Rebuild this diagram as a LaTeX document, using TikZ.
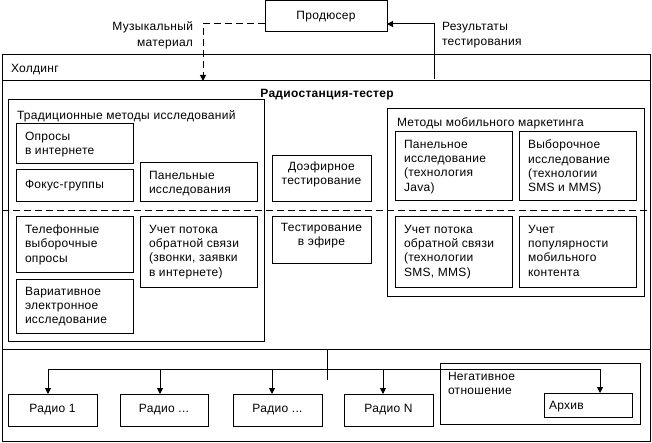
\documentclass[tikz,border=0pt]{standalone}
\usepackage{fontspec}
\setmainfont{Liberation Sans}[LetterSpace=2.5]
\usetikzlibrary{arrows.meta,calc}
\newcommand\tfont{\fontsize{12}{14.3}\selectfont}
\newcommand\mybox[5]{\node[bx,minimum width=#4pt,minimum height=#5pt] (#1) at (#2,#3) {};}
\begin{document}
\begin{tikzpicture}[x=1pt,y=-1pt,
  bx/.style={draw,line width=1pt,inner sep=0pt,outer sep=0pt,anchor=north west,rectangle},
  txt/.style={inner sep=0pt,outer sep=0pt,anchor=north west,align=left,font=\tfont,execute at begin node=\strut},
  ctxt/.style={txt,anchor=north,align=center},
  arr/.style={-{Triangle[length=6pt,width=6pt]}},
  ln/.style={line width=1pt},
  dsh/.style={line width=1pt,dash pattern=on 7pt off 4pt}]
\useasboundingbox[fill=white] (0,0) rectangle (652,443);
% boxes
\mybox{prod}{265}{1}{122}{31}
\mybox{hold}{2}{55}{648}{386}
\mybox{trad}{8}{100}{256}{241}
\mybox{A1}{16}{124}{117}{40}
\mybox{A2}{16}{170}{117}{32}
\mybox{A3}{140}{163}{117}{39}
\mybox{A4}{16}{217}{117}{55}
\mybox{A5}{140}{217}{117}{70}
\mybox{A6}{16}{279}{117}{54}
\mybox{C1}{272}{156}{99}{46}
\mybox{C2}{272}{217}{99}{46}
\mybox{mob}{387}{109}{257}{187}
\mybox{B1}{395}{132}{117}{69}
\mybox{B2}{519}{132}{117}{69}
\mybox{B3}{395}{217}{117}{70}
\mybox{B4}{519}{217}{117}{70}
\mybox{r1}{8}{394}{89}{32}
\mybox{r2}{120}{394}{88}{32}
\mybox{r3}{233}{394}{89}{32}
\mybox{rN}{344}{394}{89}{32}
\mybox{neg}{440}{363}{200}{61}
\mybox{arch}{544}{393}{88}{24}
% texts
\node[ctxt] (prodt) at ($(prod.north)+(0,8)$) {Продюсер};
\node[txt,anchor=north east,align=right,font=\fontsize{12}{15.5}\selectfont] (lm) at (193,22) {Музыкальный\\материал};
\node[txt,font=\fontsize{12}{15.5}\selectfont] (lr) at (442,22) {Результаты\\тестирования};
\node[txt] (holdt) at (11,62) {Холдинг};
\node[ctxt,font=\tfont\bfseries] (radt) at (327,87) {Радиостанция-тестер};
\node[txt] (tradt) at (17,109) {Традиционные методы исследований};
\node[txt] (mobt) at (397,116) {Методы мобильного маркетинга};
\node[txt] (A1t) at ($(A1.north west)+(9,8)$) {Опросы\\в интернете};
\node[txt] (A2t) at ($(A2.north west)+(9,8)$) {Фокус-группы};
\node[txt] (A3t) at ($(A3.north west)+(9,8)$) {Панельные\\исследования};
\node[txt] (A4t) at ($(A4.north west)+(9,8)$) {Телефонные\\выборочные\\опросы};
\node[txt] (A5t) at ($(A5.north west)+(9,8)$) {Учет потока\\обратной связи\\(звонки, заявки\\в интернете)};
\node[txt] (A6t) at ($(A6.north west)+(9,8)$) {Вариативное\\электронное\\исследование};
\node[ctxt] (C1t) at ($(C1.north)+(0,6)$) {Доэфирное\\тестирование};
\node[ctxt] (C2t) at ($(C2.north)+(0,6)$) {Тестирование\\в эфире};
\node[txt] (B1t) at ($(B1.north west)+(9,8)$) {Панельное\\исследование\\(технология\\Java)};
\node[txt] (B2t) at ($(B2.north west)+(9,8)$) {Выборочное\\исследование\\(технологии\\SMS и MMS)};
\node[txt] (B3t) at ($(B3.north west)+(9,8)$) {Учет потока\\обратной связи\\(технологии\\SMS, MMS)};
\node[txt] (B4t) at ($(B4.north west)+(9,8)$) {Учет\\популярности\\мобильного\\контента};
\node[ctxt] (r1t) at ($(r1.north)+(0,8)$) {Радио 1};
\node[ctxt] (r2t) at ($(r2.north)+(0,8)$) {Радио ...};
\node[ctxt] (r3t) at ($(r3.north)+(0,8)$) {Радио ...};
\node[ctxt] (rNt) at ($(rN.north)+(0,8)$) {Радио N};
\node[txt] (negt) at ($(neg.north west)+(8,9)$) {Негативное\\отношение};
\node[txt] (archt) at ($(arch.north west)+(5,6)$) {Архив};
% lines
\coordinate (hy) at (0,81);
\coordinate (dy) at (0,211);
\coordinate (by) at (0,349);
\draw[ln] (hold.west|-hy) -- (hold.east|-hy);
\draw[dsh] (hold.west|-dy) -- (hold.east|-dy);
\draw[ln] (hold.west|-by) -- (hold.east|-by);
% producer connectors
\coordinate (mm) at (203,81);
\coordinate (rs) at (434,79);
\draw[dsh,arr] ($(prod.south west)+(0,-8)$) -| (mm);
\draw[ln,arr] (rs) |- ($(prod.south east)+(0,-8)$);
% distribution
\coordinate (hub) at (327,349);
\coordinate (hubend) at (327,380);
\coordinate (b1) at (48,369);
\coordinate (b2) at (160,369);
\coordinate (b3) at (272,369);
\coordinate (b4) at (383,369);
\coordinate (b5) at (600,369);
\draw[ln] (hub) -- (hubend);
\draw[ln] (b1) -- (b5);
\draw[ln,arr] (b1) -- (b1|-r1.north);
\draw[ln,arr] (b2) -- (b2|-r2.north);
\draw[ln,arr] (b3) -- (b3|-r3.north);
\draw[ln,arr] (b4) -- (b4|-rN.north);
\draw[ln,arr] (b5) -- (b5|-arch.north);
\end{tikzpicture}
\end{document}
